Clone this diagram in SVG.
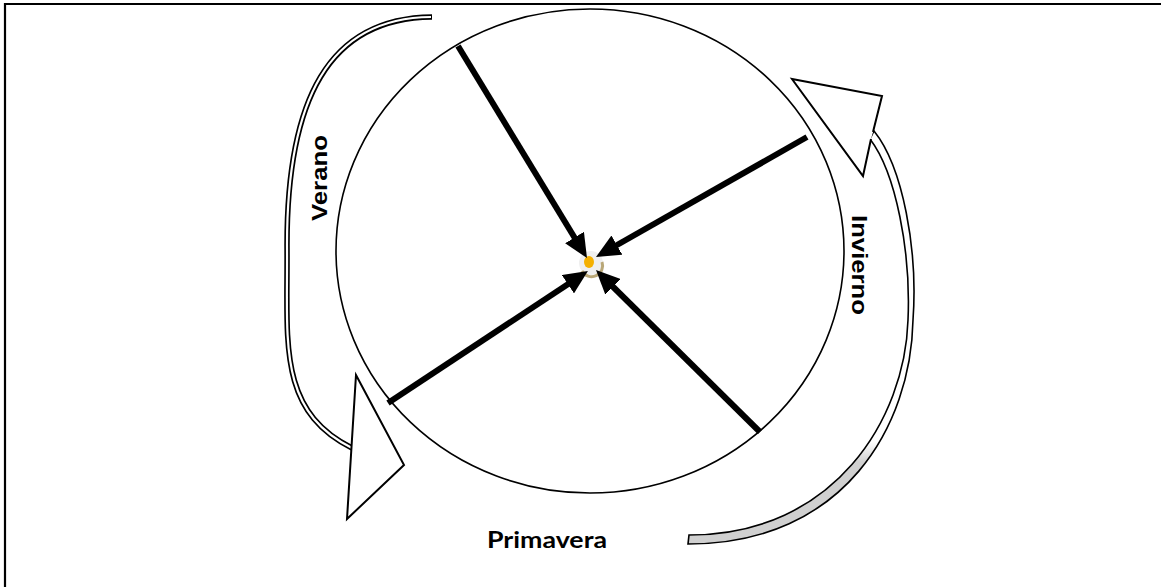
<svg xmlns="http://www.w3.org/2000/svg" width="1161" height="587" viewBox="0 0 1161 587">
  <style>
    .frame { stroke: #000; stroke-width: 2.2; fill: none; }
    .ring { fill: none; stroke: #000; stroke-width: 1.6; }
    .spoke { stroke: #000; stroke-width: 6; stroke-linecap: butt; marker-end: url(#head); }
    .bandOuter { fill: none; stroke: #000; stroke-width: 5.5; }
    .bandInner { fill: none; stroke: #fff; stroke-width: 2.2; }
    .headShape { fill: #fff; stroke: #000; stroke-width: 2; stroke-linejoin: miter; }
    .lbl { font-family: "Liberation Sans", Arial, sans-serif; font-weight: bold; font-size: 22px; fill: #000; }
    .lbl2 { font-family: Lato, "Open Sans", sans-serif; font-weight: bold; font-size: 22px; fill: #000; }
  </style>
  <defs>
    <marker id="head" viewBox="0 0 24 22" refX="14" refY="11" markerWidth="24" markerHeight="22" markerUnits="userSpaceOnUse" orient="auto">
      <path d="M0,0 L24,11 L0,22 Z" fill="#000"/>
    </marker>
    <linearGradient id="bandFill" gradientUnits="userSpaceOnUse" x1="0" y1="442" x2="0" y2="462">
      <stop offset="0" stop-color="#fff"/>
      <stop offset="1" stop-color="#d0d0d0"/>
    </linearGradient>
  </defs>

  <g id="frame">
    <line class="frame" x1="4" y1="4" x2="1161" y2="4"/>
    <line class="frame" x1="5" y1="3" x2="5" y2="587"/>
  </g>

  <g id="wheel">
    <ellipse class="ring" cx="590" cy="251" rx="254" ry="242"/>
  </g>

  <g id="verano-arrow">
    <path class="bandOuter" d="M432,17 C328,18 287,100 287,245 C288,340 276,410 352,448"/>
    <path class="bandInner" d="M431,17 C328,18 287,100 287,245 C288,340 276,410 352,448"/>
    <polygon class="headShape" points="356,375 404,465 347,519"/>
  </g>

  <g id="invierno-arrow">
    <path d="M874,131 C903,167 918,250 913,320 C911,425 845,544 688,544 L689,535 C835,535 905,418 908,320 C911,252 896,173 870,139 Z" fill="url(#bandFill)" stroke="#000" stroke-width="1.6"/>
    <path class="headShape" d="M873,132 L882,96 L792,79 L863,176 L871,139"/>
  </g>

  <g id="sun">
    <circle cx="591" cy="263" r="12" fill="#efefef"/>
    <path d="M582,271 A11,11 0 0 0 602,262" fill="none" stroke="#b9a777" stroke-width="3"/>
    <ellipse cx="589" cy="262" rx="5" ry="6" fill="#f4b000"/>
  </g>

  <g id="connectors">
    <line class="spoke" x1="458" y1="46" x2="581.8" y2="249.5"/>
    <line class="spoke" x1="807" y1="137" x2="604.7" y2="252"/>
    <line class="spoke" x1="388" y1="403" x2="579.6" y2="276.5"/>
    <line class="spoke" x1="760" y1="432" x2="603.1" y2="277"/>
  </g>

  <g id="labels">
    <text class="lbl" x="327" y="178" text-anchor="middle" textLength="86" lengthAdjust="spacingAndGlyphs" transform="rotate(-90 327 178)">Verano</text>
    <text class="lbl" x="852" y="265" text-anchor="middle" textLength="100" lengthAdjust="spacingAndGlyphs" transform="rotate(90 852 265)">Invierno</text>
    <text class="lbl2" x="547" y="548" text-anchor="middle" textLength="120" lengthAdjust="spacingAndGlyphs">Primavera</text>
  </g>
</svg>
